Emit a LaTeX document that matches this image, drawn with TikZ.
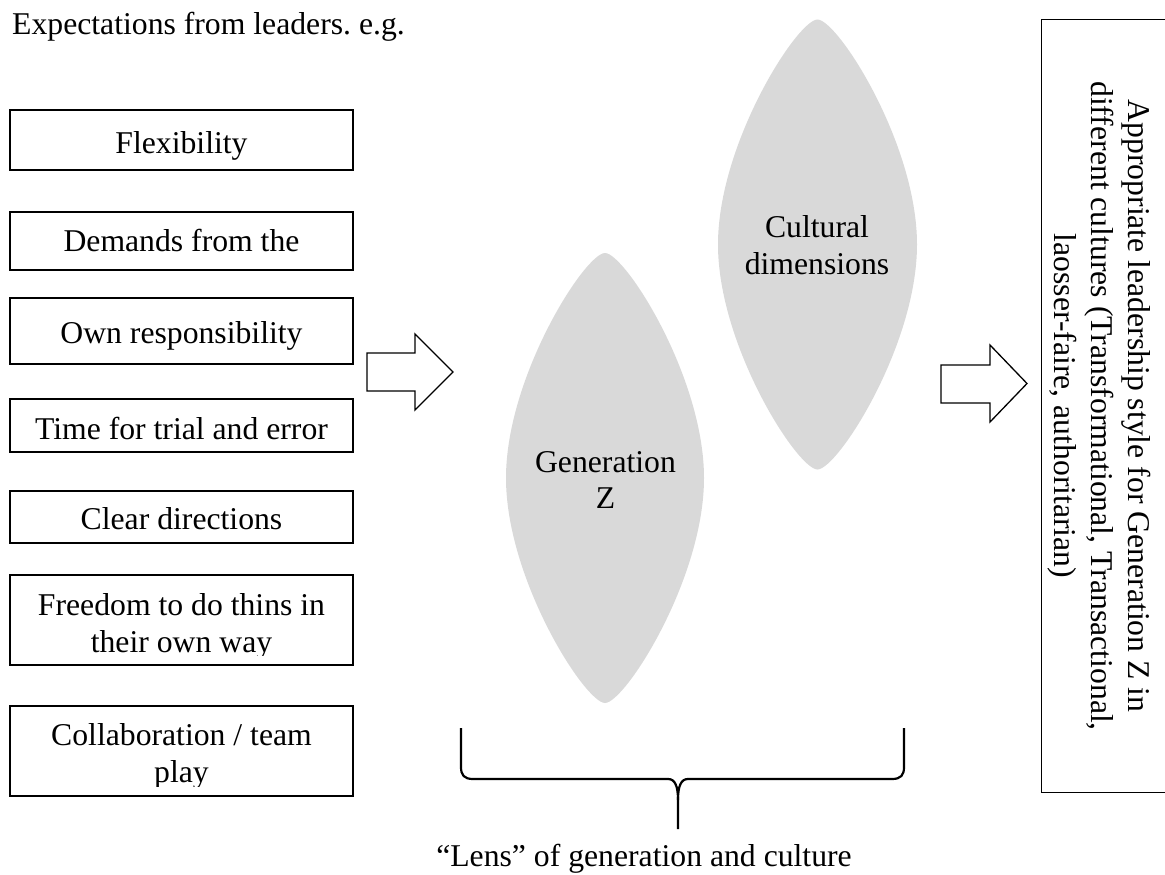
\documentclass[tikz,border=0pt]{standalone}
\usepackage{fontspec}
\setmainfont{Liberation Serif}
\definecolor{lensgray}{HTML}{D9D9D9}
\frenchspacing
\begin{document}
\begin{tikzpicture}[x=1pt,y=-1pt,
  txt/.style={font=\fontsize{31.7}{37}\selectfont, inner sep=0pt, anchor=base},
  itembox/.style={draw, line width=1.2pt, inner sep=0pt, outer sep=0pt, anchor=north west, minimum width=343pt},
  blockarrow/.style={draw, line width=1.3pt, fill=white, line join=miter},
  lens/.style={fill=lensgray},
  brace/.style={draw, line width=2.2pt, line cap=butt}]
\clip (0,0) rectangle (1165,875);

% title
\node[txt, anchor=base west] (title) at (12,35) {Expectations from leaders. e.g.};

% left boxes
\node[itembox, minimum height=60pt] (b1) at (10,110) {};
\node[itembox, minimum height=58pt] (b2) at (10,212) {};
\node[itembox, minimum height=66pt] (b3) at (10,298) {};
\node[itembox, minimum height=53pt] (b4) at (10,399) {};
\node[itembox, minimum height=52pt] (b5) at (10,491) {};
\node[itembox, minimum height=90pt] (b6) at (10,575) {};
\node[itembox, minimum height=90pt] (b7) at (10,706) {};

\node[txt] (t1) at (181.5,153) {Flexibility};
\node[txt] (t2) at (181.5,251) {Demands from the};
\node[txt] (t3) at (181.5,343) {Own responsibility};
\node[txt] (t4) at (181.5,439) {Time for trial and error};
\node[txt] (t5) at (181.5,529) {Clear directions};
\node[txt] (t6a) at (181.5,615) {Freedom to do thins in};
\begin{scope}
  \clip (10,575) rectangle (353,655.7);
  \node[txt] (t6b) at (181.5,652) {their own way};
\end{scope}
\node[txt] (t7a) at (181.5,745) {Collaboration / team};
\begin{scope}
  \clip (10,706) rectangle (353,786.7);
  \node[txt] (t7b) at (181.5,782) {play};
\end{scope}

% arrow 1
\draw[blockarrow] (367,353) -- (415,353) -- (415,334) -- (453,372) -- (415,410) -- (415,391) -- (367,391) -- cycle;

% lenses
\fill[lens] (605,253) .. controls (624.8,253) and (704,376.75) .. (704,478)
  .. controls (704,579.25) and (624.8,703) .. (605,703)
  .. controls (585.2,703) and (506,579.25) .. (506,478)
  .. controls (506,376.75) and (585.2,253) .. cycle;
\fill[lens] (817.5,19.5) .. controls (837.4,19.5) and (917,143.25) .. (917,244.5)
  .. controls (917,345.75) and (837.4,469.5) .. (817.5,469.5)
  .. controls (797.6,469.5) and (718,345.75) .. (718,244.5)
  .. controls (718,143.25) and (797.6,19.5) .. cycle;
\node[txt] (gz1) at (605.5,472) {Generation};
\node[txt] (gz2) at (605.5,508) {Z};
\node[txt] (cd1) at (817,237) {Cultural};
\node[txt] (cd2) at (817,274) {dimensions};

% arrow 2
\draw[blockarrow] (941,365) -- (990,365) -- (990,345) -- (1027,383.5) -- (990,422) -- (990,403) -- (941,403) -- cycle;

% right box
\node[draw, line width=1.2pt, inner sep=0pt, anchor=north west, minimum width=160pt, minimum height=773pt] (out) at (1041,19) {};
\node[txt, rotate=-90] (o1) at (1128,406) {Appropriate leadership style for Generation Z in};
\node[txt, rotate=-90] (o2) at (1091,406) {different cultures (Transformational, Transactional,};
\node[txt, rotate=-90] (o3) at (1054,406) {laosser-faire, authoritarian)};

% brace
\coordinate (bl) at (461,728);
\coordinate (br) at (904,728);
\coordinate (btip) at (678,829);
\draw[brace] (bl) -- (461,767) .. controls (461,775) and (464,779) .. (473,779) -- (668,779)
  .. controls (675,779) and (678,786) .. (678,800) -- (btip);
\draw[brace] (br) -- (904,767) .. controls (904,775) and (901,779) .. (892,779) -- (688,779)
  .. controls (681,779) and (678,786) .. (678,800);
\node[txt] (lenslabel) at (644,866) {“Lens” of generation and culture};
\end{tikzpicture}
\end{document}
